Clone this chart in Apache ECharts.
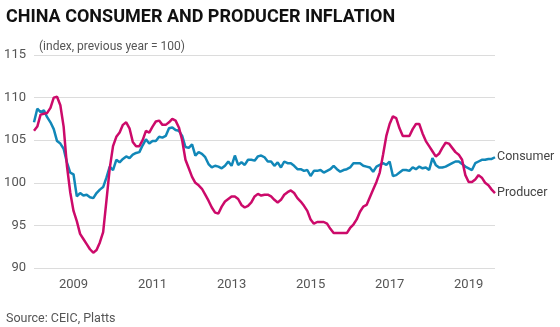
<!DOCTYPE html>
<html>
<head>
<meta charset="utf-8">
<script src="https://cdn.jsdelivr.net/npm/echarts@6/dist/echarts.min.js"></script>
<style>
html,body{margin:0;padding:0;background:#fff;}
#c{width:560px;height:327px;}
</style>
</head>
<body>
<div id="c"></div>
<script>
// Monthly, Jan 2008 - Sep 2019
var startYear = 2008;
var consumer = [
107.1,108.7,108.3,108.5,107.7,107.1,106.3,104.9,104.6,104.0,102.4,101.2,
101.0,98.4,98.8,98.5,98.6,98.3,98.2,98.8,99.2,99.5,100.6,101.9,
101.5,102.7,102.4,102.8,103.1,102.9,103.3,103.5,103.6,104.4,105.1,104.6,
104.9,104.9,105.4,105.3,105.5,106.4,106.5,106.2,106.1,105.5,104.2,104.1,
104.5,103.2,103.6,103.4,103.0,102.2,101.8,102.0,101.9,101.7,102.0,102.5,
102.0,103.2,102.1,102.4,102.1,102.7,102.7,102.6,103.1,103.2,103.0,102.5,
102.5,102.0,102.4,101.8,102.5,102.3,102.3,102.0,101.6,101.6,101.4,101.5,
100.8,101.4,101.4,101.5,101.2,101.4,101.6,102.0,101.6,101.3,101.5,101.6,
101.8,102.3,102.3,102.3,102.0,101.9,101.8,101.3,101.9,102.1,102.3,102.1,
102.5,100.8,100.9,101.2,101.5,101.5,101.4,101.8,101.6,101.9,101.7,101.8,
101.5,102.9,102.1,101.8,101.8,101.9,102.1,102.3,102.5,102.5,102.2,101.9,
101.7,101.5,102.3,102.5,102.7,102.7,102.8,102.8,103.0
];
var producer = [
106.1,106.6,108.0,108.1,108.2,108.8,110.0,110.1,109.1,106.6,102.0,98.9,
96.7,95.5,94.0,93.4,92.8,92.2,91.8,92.1,93.0,94.2,97.9,101.7,
104.3,105.4,105.9,106.8,107.1,106.4,104.8,104.3,104.3,105.0,106.1,105.9,
106.6,107.2,107.3,106.8,106.8,107.1,107.5,107.3,106.5,105.0,102.7,101.7,
100.7,100.0,99.7,99.3,98.6,97.9,97.1,96.5,96.4,97.2,97.8,98.1,
98.4,98.4,98.1,97.4,97.1,97.3,97.7,98.4,98.7,98.5,98.6,98.6,
98.4,98.0,97.7,98.0,98.6,98.9,99.1,98.8,98.2,97.8,97.3,96.7,
95.7,95.2,95.4,95.4,95.4,95.2,94.6,94.1,94.1,94.1,94.1,94.1,
94.7,95.1,95.7,96.6,97.2,97.4,98.3,99.2,100.1,101.2,103.3,105.5,
106.9,107.8,107.6,106.4,105.5,105.5,105.5,106.3,106.9,106.9,105.8,104.9,
104.3,103.7,103.1,103.4,104.1,104.7,104.6,104.1,103.6,103.3,102.7,100.9,
100.1,100.1,100.4,100.9,100.6,100.0,99.7,99.2,98.8
];
var tickYears = ['2009','2011','2013','2015','2017','2019'];
var yTicks = [90, 95, 100, 105, 110, 115];

var months = [];
for (var i = 0; i < consumer.length; i++) {
  var y = startYear + Math.floor(i / 12);
  var m = (i % 12) + 1;
  months.push(y + '-' + (m < 10 ? '0' + m : m));
}

var chart = echarts.init(document.getElementById('c'));
var labelFont = 'Roboto, "DejaVu Sans", sans-serif';
chart.setOption({
  animation: false,
  backgroundColor: '#ffffff',
  title: [
    {text: 'CHINA CONSUMER AND PRODUCER INFLATION', left: 1, top: 3,
     textStyle: {fontFamily: 'Roboto', fontWeight: 'bold', fontSize: 18, color: '#111'}},
    {text: '(index, previous year = 100)', left: 34, top: 36,
     textStyle: {fontFamily: labelFont, fontWeight: 'normal', fontSize: 12, color: '#555'}},
    {text: 'Source: CEIC, Platts', left: 1, top: 307,
     textStyle: {fontFamily: labelFont, fontWeight: 'normal', fontSize: 12.5, color: '#555'}}
  ],
  grid: {left: 34, right: 65, top: 55, bottom: 59, containLabel: false},
  xAxis: {
    type: 'category',
    data: months,
    boundaryGap: false,
    axisLine: {show: false},
    axisTick: {show: false},
    splitLine: {show: false},
    axisLabel: {
      interval: 0,
      margin: 10,
      fontFamily: labelFont, fontSize: 13, color: '#555',
      formatter: function (v) {
        var p = v.split('-');
        return (p[1] === '01' && tickYears.indexOf(p[0]) >= 0) ? p[0] : '';
      }
    }
  },
  yAxis: {
    type: 'value',
    min: yTicks[0], max: yTicks[yTicks.length - 1], interval: 5,
    axisLine: {show: false},
    axisTick: {show: false},
    splitLine: {lineStyle: {color: '#dcdcdc', width: 1}},
    axisLabel: {margin: 8, fontFamily: labelFont, fontSize: 13, color: '#555',
      padding: [6, 0, 0, 0]}
  },
  series: [
    {name: 'Consumer', type: 'line', data: consumer, showSymbol: false, smooth: false,
     lineStyle: {color: '#1187b8', width: 2.5}, itemStyle: {color: '#1187b8'},
     endLabel: {show: true, formatter: 'Consumer', color: '#444', fontFamily: labelFont, fontSize: 12.5, distance: 2}},
    {name: 'Producer', type: 'line', data: producer, showSymbol: false, smooth: false,
     lineStyle: {color: '#cc0a6a', width: 2.5}, itemStyle: {color: '#cc0a6a'},
     endLabel: {show: true, formatter: 'Producer', color: '#444', fontFamily: labelFont, fontSize: 12.5, distance: 2}}
  ]
});
</script>
</body>
</html>
